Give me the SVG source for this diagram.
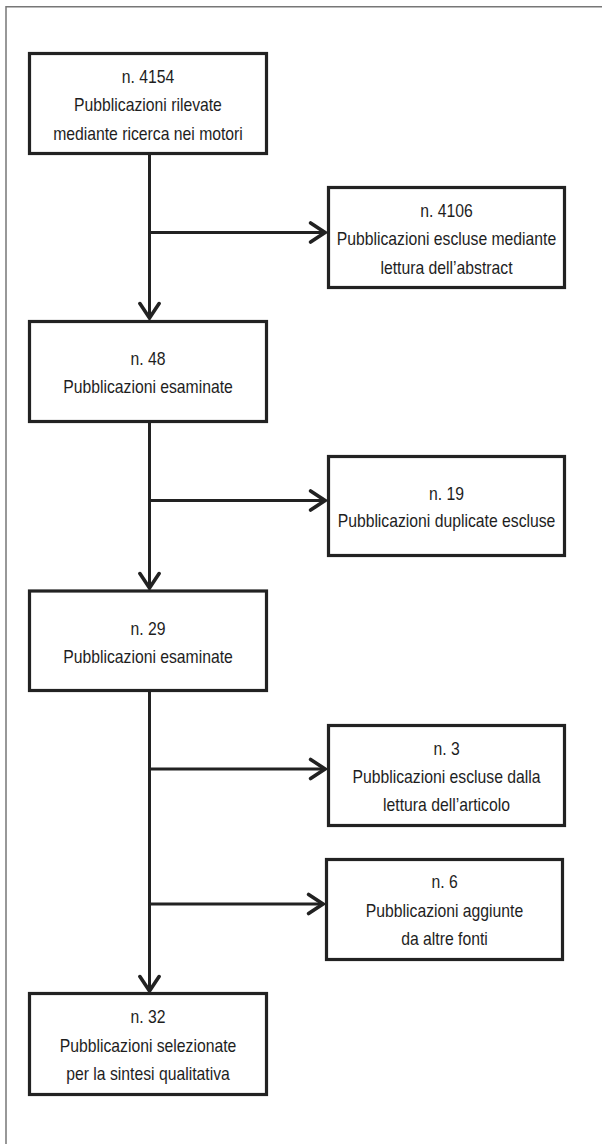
<svg xmlns="http://www.w3.org/2000/svg" width="602" height="1144" viewBox="0 0 602 1144">
<defs>
<marker id="arr" markerUnits="userSpaceOnUse" markerWidth="20" markerHeight="24" viewBox="-14 -10 16 20" refX="0" refY="0" orient="auto">
<path d="M-12,-8 L0,0 L-12,8" fill="none" stroke="#222" stroke-width="3" stroke-linejoin="miter" stroke-linecap="round"/>
</marker>
</defs>
<style>
.box{fill:#fff;stroke:#222;stroke-width:3.2}
.t{font-family:"Liberation Sans",Arial,sans-serif;font-size:17.5px;fill:#1e1e1e;text-anchor:middle}
.ln{fill:none;stroke:#222;stroke-width:3}
.frame{fill:none;stroke:#777;stroke-width:1.5}
</style>
<rect width="602" height="1144" fill="#fff"/>
<path class="frame" d="M6,1144 V6.7 H602"/>
<g id="connectors">
<path class="ln" d="M149.5,155 V318" marker-end="url(#arr)"/>
<path class="ln" d="M149.5,232.5 H325" marker-end="url(#arr)"/>
<path class="ln" d="M149.5,423 V588" marker-end="url(#arr)"/>
<path class="ln" d="M149.5,500.5 H325" marker-end="url(#arr)"/>
<path class="ln" d="M149.5,692 V991" marker-end="url(#arr)"/>
<path class="ln" d="M149.5,769 H325" marker-end="url(#arr)"/>
<path class="ln" d="M149.5,904 H323" marker-end="url(#arr)"/>
</g>
<g id="n4154">
<rect class="box" x="29.5" y="53.5" width="237" height="100"/>
<g transform="translate(148 0) scale(0.9 1)">
<text class="t" x="0" y="83">n. 4154</text>
<text class="t" x="0" y="111.5">Pubblicazioni rilevate</text>
<text class="t" x="0" y="140">mediante ricerca nei motori</text>
</g>
</g>
<g id="n4106">
<rect class="box" x="328.5" y="187.5" width="236" height="100"/>
<g transform="translate(446.5 0) scale(0.9 1)">
<text class="t" x="0" y="217">n. 4106</text>
<text class="t" x="0" y="245.5">Pubblicazioni escluse mediante</text>
<text class="t" x="0" y="274">lettura dell’abstract</text>
</g>
</g>
<g id="n48">
<rect class="box" x="29.5" y="321.5" width="237" height="100"/>
<g transform="translate(148 0) scale(0.9 1)">
<text class="t" x="0" y="365">n. 48</text>
<text class="t" x="0" y="393">Pubblicazioni esaminate</text>
</g>
</g>
<g id="n19">
<rect class="box" x="328.5" y="456.5" width="236" height="99"/>
<g transform="translate(446.5 0) scale(0.9 1)">
<text class="t" x="0" y="500">n. 19</text>
<text class="t" x="0" y="527.5">Pubblicazioni duplicate escluse</text>
</g>
</g>
<g id="n29">
<rect class="box" x="29.5" y="591" width="237" height="99.5"/>
<g transform="translate(148 0) scale(0.9 1)">
<text class="t" x="0" y="635">n. 29</text>
<text class="t" x="0" y="663">Pubblicazioni esaminate</text>
</g>
</g>
<g id="n3">
<rect class="box" x="328.5" y="725.5" width="236" height="100"/>
<g transform="translate(446.5 0) scale(0.9 1)">
<text class="t" x="0" y="755">n. 3</text>
<text class="t" x="0" y="783">Pubblicazioni escluse dalla</text>
<text class="t" x="0" y="811.5">lettura dell’articolo</text>
</g>
</g>
<g id="n6">
<rect class="box" x="326.5" y="859.5" width="236" height="100"/>
<g transform="translate(444.5 0) scale(0.9 1)">
<text class="t" x="0" y="888">n. 6</text>
<text class="t" x="0" y="917">Pubblicazioni aggiunte</text>
<text class="t" x="0" y="945.5">da altre fonti</text>
</g>
</g>
<g id="n32">
<rect class="box" x="29.5" y="993.5" width="237" height="101"/>
<g transform="translate(148 0) scale(0.9 1)">
<text class="t" x="0" y="1023">n. 32</text>
<text class="t" x="0" y="1052">Pubblicazioni selezionate</text>
<text class="t" x="0" y="1080">per la sintesi qualitativa</text>
</g>
</g>
</svg>
